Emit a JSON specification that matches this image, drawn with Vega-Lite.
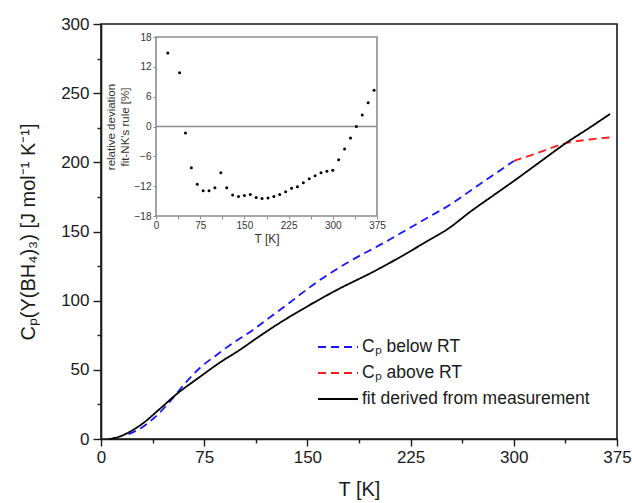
{
  "$schema": "https://vega.github.io/schema/vega-lite/v6.json",
  "width": 516,
  "height": 415,
  "autosize": {"type": "none"},
  "padding": {"left": 101, "top": 24, "right": 15, "bottom": 64},
  "background": "white",
  "config": {
    "font": "Liberation Sans",
    "view": {"stroke": "#1a1a1a", "strokeWidth": 1.6},
    "axis": {"labelFont": "Liberation Sans", "titleFont": "Liberation Sans", "titleFontWeight": "normal", "grid": false}
  },
  "datasets": {
    "main": [
      {"T": 20, "Cp": 3.5, "series": "Cₚ below RT"},
      {"T": 30, "Cp": 8.5, "series": "Cₚ below RT"},
      {"T": 40, "Cp": 16.5, "series": "Cₚ below RT"},
      {"T": 50, "Cp": 27, "series": "Cₚ below RT"},
      {"T": 60, "Cp": 39, "series": "Cₚ below RT"},
      {"T": 72, "Cp": 51.5, "series": "Cₚ below RT"},
      {"T": 85, "Cp": 61.5, "series": "Cₚ below RT"},
      {"T": 96, "Cp": 69.5, "series": "Cₚ below RT"},
      {"T": 110, "Cp": 78.5, "series": "Cₚ below RT"},
      {"T": 120, "Cp": 86, "series": "Cₚ below RT"},
      {"T": 135, "Cp": 97, "series": "Cₚ below RT"},
      {"T": 157, "Cp": 113.5, "series": "Cₚ below RT"},
      {"T": 180, "Cp": 128, "series": "Cₚ below RT"},
      {"T": 205, "Cp": 141.5, "series": "Cₚ below RT"},
      {"T": 232, "Cp": 157, "series": "Cₚ below RT"},
      {"T": 253, "Cp": 169, "series": "Cₚ below RT"},
      {"T": 275, "Cp": 184, "series": "Cₚ below RT"},
      {"T": 300, "Cp": 201, "series": "Cₚ below RT"},
      {"T": 300, "Cp": 201, "series": "Cₚ above RT"},
      {"T": 315, "Cp": 206, "series": "Cₚ above RT"},
      {"T": 338, "Cp": 213.8, "series": "Cₚ above RT"},
      {"T": 355, "Cp": 216.5, "series": "Cₚ above RT"},
      {"T": 370, "Cp": 218, "series": "Cₚ above RT"},
      {"T": 6, "Cp": 0, "series": "fit derived from measurement"},
      {"T": 10, "Cp": 0.8, "series": "fit derived from measurement"},
      {"T": 15, "Cp": 2.3, "series": "fit derived from measurement"},
      {"T": 21, "Cp": 5.3, "series": "fit derived from measurement"},
      {"T": 30, "Cp": 11, "series": "fit derived from measurement"},
      {"T": 43, "Cp": 22, "series": "fit derived from measurement"},
      {"T": 55, "Cp": 32.5, "series": "fit derived from measurement"},
      {"T": 72, "Cp": 45, "series": "fit derived from measurement"},
      {"T": 86, "Cp": 55, "series": "fit derived from measurement"},
      {"T": 101, "Cp": 64.5, "series": "fit derived from measurement"},
      {"T": 113, "Cp": 72.8, "series": "fit derived from measurement"},
      {"T": 130, "Cp": 84, "series": "fit derived from measurement"},
      {"T": 145, "Cp": 93, "series": "fit derived from measurement"},
      {"T": 170, "Cp": 107, "series": "fit derived from measurement"},
      {"T": 200, "Cp": 122, "series": "fit derived from measurement"},
      {"T": 220, "Cp": 133, "series": "fit derived from measurement"},
      {"T": 236, "Cp": 142.4, "series": "fit derived from measurement"},
      {"T": 253, "Cp": 152.5, "series": "fit derived from measurement"},
      {"T": 268, "Cp": 164, "series": "fit derived from measurement"},
      {"T": 285, "Cp": 176, "series": "fit derived from measurement"},
      {"T": 300, "Cp": 186.5, "series": "fit derived from measurement"},
      {"T": 320, "Cp": 201, "series": "fit derived from measurement"},
      {"T": 338, "Cp": 214, "series": "fit derived from measurement"},
      {"T": 355, "Cp": 225, "series": "fit derived from measurement"},
      {"T": 370, "Cp": 235, "series": "fit derived from measurement"}
    ],
    "inset": [
      {"T": 20, "dev": 14.8}, {"T": 40, "dev": 10.8}, {"T": 50, "dev": -1.3}, {"T": 60, "dev": -8.3},
      {"T": 70, "dev": -11.6}, {"T": 80, "dev": -12.9}, {"T": 90, "dev": -12.9}, {"T": 100, "dev": -12.3},
      {"T": 110, "dev": -9.3}, {"T": 120, "dev": -12.3}, {"T": 130, "dev": -13.8}, {"T": 140, "dev": -14.1},
      {"T": 150, "dev": -13.9}, {"T": 160, "dev": -13.7}, {"T": 170, "dev": -14.3}, {"T": 180, "dev": -14.5},
      {"T": 190, "dev": -14.4}, {"T": 200, "dev": -14.1}, {"T": 210, "dev": -13.7}, {"T": 220, "dev": -13.1},
      {"T": 230, "dev": -12.4}, {"T": 240, "dev": -12.1}, {"T": 250, "dev": -11.3}, {"T": 260, "dev": -10.5},
      {"T": 270, "dev": -9.9}, {"T": 280, "dev": -9.3}, {"T": 290, "dev": -9.0}, {"T": 300, "dev": -8.8},
      {"T": 310, "dev": -6.7}, {"T": 320, "dev": -4.5}, {"T": 330, "dev": -2.3}, {"T": 340, "dev": 0},
      {"T": 350, "dev": 2.3}, {"T": 360, "dev": 4.8}, {"T": 370, "dev": 7.3}
    ],
    "frame": [{"x1": 0, "x2": 375, "y1": -18, "y2": 18, "zero": 0}]
  },
  "layer": [
    {
      "data": {"name": "main"},
      "mark": {"type": "line", "strokeWidth": 1.8, "interpolate": "monotone"},
      "encoding": {
        "x": {
          "field": "T", "type": "quantitative",
          "scale": {"domain": [0, 375], "nice": false, "zero": false},
          "axis": {
            "title": "T [K]", "titleFontSize": 20, "titleColor": "#1a1a1a", "titlePadding": 14,
            "values": [0, 37.5, 75, 112.5, 150, 187.5, 225, 262.5, 300, 337.5, 375],
            "labelExpr": "datum.value % 75 === 0 ? datum.label : ''",
            "labelFontSize": 17, "labelColor": "#1a1a1a", "labelPadding": 3,
            "labelFlush": false, "labelOverlap": false,
            "domainColor": "#1a1a1a", "domainWidth": 1.6,
            "tickColor": "#1a1a1a", "tickWidth": 1.4,
            "tickSize": {"condition": {"test": "datum.value % 75 !== 0", "value": 4}, "value": 7}
          }
        },
        "y": {
          "field": "Cp", "type": "quantitative",
          "scale": {"domain": [0, 300], "nice": false},
          "axis": {
            "title": "Cₚ(Y(BH₄)₃) [J mol⁻¹ K⁻¹]", "titleFontSize": 20, "titleColor": "#1a1a1a", "titlePadding": 22,
            "values": [0, 25, 50, 75, 100, 125, 150, 175, 200, 225, 250, 275, 300],
            "labelExpr": "datum.value % 50 === 0 ? datum.label : ''",
            "labelFontSize": 17, "labelColor": "#1a1a1a", "labelPadding": 4,
            "labelFlush": false, "labelOverlap": false,
            "domainColor": "#1a1a1a", "domainWidth": 1.6,
            "tickColor": "#1a1a1a", "tickWidth": 1.4,
            "tickSize": {"condition": {"test": "datum.value % 50 !== 0", "value": 4}, "value": 8}
          }
        },
        "color": {
          "field": "series", "type": "nominal",
          "scale": {"domain": ["Cₚ below RT", "Cₚ above RT", "fit derived from measurement"], "range": ["#1414ff", "#ff1a1a", "#000000"]},
          "legend": {
            "title": null, "orient": "none", "legendX": 226, "legendY": 312,
            "symbolType": "M-2,0L2,0", "symbolSize": 400, "symbolStrokeWidth": 2,
            "labelFontSize": 17.5, "labelColor": "#1a1a1a", "labelOffset": 13, "rowPadding": 6,
            "labelLimit": 400
          }
        },
        "strokeDash": {
          "field": "series", "type": "nominal",
          "scale": {"domain": ["Cₚ below RT", "Cₚ above RT", "fit derived from measurement"], "range": [[8, 5], [8, 5], [1, 0]]},
          "legend": {
            "title": null, "orient": "none", "legendX": 226, "legendY": 312,
            "symbolType": "M-2,0L2,0", "symbolSize": 400, "symbolStrokeWidth": 2,
            "labelFontSize": 17.5, "labelColor": "#1a1a1a", "labelOffset": 13, "rowPadding": 6,
            "labelLimit": 400
          }
        }
      }
    },
    {
      "layer": [
        {
          "data": {"name": "frame"},
          "mark": {"type": "rect", "fill": "white", "stroke": "#8c8c8c", "strokeWidth": 1.6},
          "encoding": {
            "x": {"field": "x1", "type": "quantitative", "scale": {"domain": [0, 375], "range": [55, 276], "nice": false, "zero": false},
              "axis": {
                "title": "T [K]", "titleFontSize": 12, "titleColor": "#333", "titlePadding": 3, "orient": "bottom", "offset": -223,
                "values": [0, 37.5, 75, 112.5, 150, 187.5, 225, 262.5, 300, 337.5, 375],
                "labelExpr": "datum.value % 75 === 0 ? datum.label : ''",
                "labelFontSize": 10, "labelColor": "#333", "labelPadding": 1, "labelFlush": false, "labelOverlap": false,
                "domain": false, "tickColor": "#8c8c8c", "tickWidth": 1, "tickSize": 3, "zindex": 1
              }},
            "x2": {"field": "x2"},
            "y": {"field": "y1", "type": "quantitative", "scale": {"domain": [-18, 18], "range": [192, 13], "nice": false, "zero": false},
              "axis": {
                "title": ["relative deviation", "fit-NK's rule [%]"], "titleFontSize": 11.5, "titleLineHeight": 14, "titleColor": "#333", "titlePadding": 4, "orient": "left", "offset": -55,
                "values": [-18, -15, -12, -9, -6, -3, 0, 3, 6, 9, 12, 15, 18],
                "labelExpr": "datum.value % 6 === 0 ? datum.label : ''",
                "labelFontSize": 10, "labelColor": "#333", "labelPadding": 2, "labelFlush": false, "labelOverlap": false,
                "domain": false, "tickColor": "#8c8c8c", "tickWidth": 1, "tickSize": 3, "zindex": 1
              }},
            "y2": {"field": "y2"}
          }
        },
        {
          "data": {"name": "frame"},
          "mark": {"type": "rule", "color": "#8c8c8c", "strokeWidth": 1.6},
          "encoding": {
            "x": {"field": "x1", "type": "quantitative"},
            "x2": {"field": "x2"},
            "y": {"field": "zero", "type": "quantitative"}
          }
        },
        {
          "data": {"name": "inset"},
          "mark": {"type": "circle", "color": "#000", "size": 9, "opacity": 1},
          "encoding": {
            "x": {"field": "T", "type": "quantitative"},
            "y": {"field": "dev", "type": "quantitative"}
          }
        }
      ]
    }
  ],
  "resolve": {"scale": {"x": "independent", "y": "independent", "color": "shared", "strokeDash": "shared"}, "axis": {"x": "independent", "y": "independent"}}
}
